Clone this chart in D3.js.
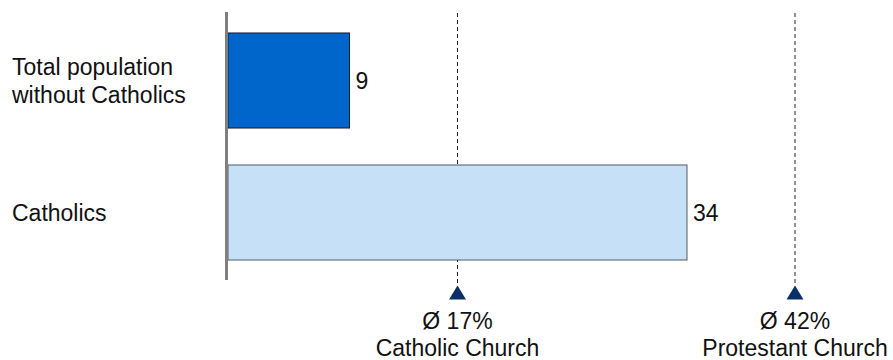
<!DOCTYPE html>
<meta charset="utf-8">
<style>
    body { margin: 0; background: #fff; }
    text {
        font-family: "Liberation Sans", Arial, sans-serif;
        font-size: 23px;
        fill: #111;
    }
</style>
<svg id="chart" width="893" height="360"></svg>
<script src="https://cdn.jsdelivr.net/npm/d3@7/dist/d3.min.js"></script>
<script>
    // data
    var categories = [["Total population", "without Catholics"], ["Catholics"]];
    var values = [9, 34];
    var barColors = ["#0066cc", "#c6e0f8"];
    var barStrokes = ["#1a1a2e", "#555a66"];

    var refValues = [17, 42];
    var refLabels = [["Ø 17%", "Catholic Church"], ["Ø 42%", "Protestant Church"]];

    var svg = d3.select("#chart");

    var x = d3.scaleLinear().domain([0, 50]).range([228, 228 + 50 * 13.5]);
    var y = d3.scaleBand()
        .domain(d3.range(categories.length))
        .range([14.5, 278.5])
        .paddingInner(0.28)
        .paddingOuter(0.14);

    // reference lines (dashed) with triangle markers
    var refs = svg.selectAll(".ref")
        .data(refValues)
        .enter().append("g")
        .attr("class", "ref");

    refs.append("line")
        .attr("x1", d => x(d)).attr("x2", d => x(d))
        .attr("y1", 13).attr("y2", 285)
        .attr("stroke", "#222")
        .attr("stroke-width", 1)
        .attr("stroke-dasharray", "4,3");

    refs.append("path")
        .attr("d", "M-8.5,7L8.5,7L0,-7Z")
        .attr("transform", d => "translate(" + x(d) + ",292.5)")
        .attr("fill", "#0b2e66");

    refs.append("text")
        .attr("text-anchor", "middle")
        .attr("x", d => x(d))
        .attr("y", 329)
        .text((d, i) => refLabels[i][0]);

    refs.append("text")
        .attr("text-anchor", "middle")
        .attr("x", d => x(d))
        .attr("y", 356)
        .text((d, i) => refLabels[i][1]);

    // bars
    svg.selectAll(".bar")
        .data(values)
        .enter().append("rect")
        .attr("class", "bar")
        .attr("x", x(0))
        .attr("y", (d, i) => y(i))
        .attr("width", d => x(d) - x(0))
        .attr("height", y.bandwidth())
        .attr("fill", (d, i) => barColors[i])
        .attr("stroke", (d, i) => barStrokes[i])
        .attr("stroke-width", 1);

    // value labels
    svg.selectAll(".val")
        .data(values)
        .enter().append("text")
        .attr("class", "val")
        .attr("x", d => x(d) + 6)
        .attr("y", (d, i) => y(i) + y.bandwidth() / 2)
        .attr("dy", "0.35em")
        .text(d => d);

    // category labels
    var cat = svg.selectAll(".cat")
        .data(categories)
        .enter().append("text")
        .attr("class", "cat")
        .attr("x", 12)
        .attr("y", (d, i) => y(i) + y.bandwidth() / 2);

    cat.selectAll("tspan")
        .data(d => d.map((t, j) => ({ t: t, j: j, n: d.length })))
        .enter().append("tspan")
        .attr("x", 12)
        .attr("dy", (d) => d.j == 0 ? (0.35 - (d.n - 1) * 0.58) + "em" : "1.19em")
        .text(d => d.t);

    // vertical axis line
    svg.append("line")
        .attr("x1", 226.5).attr("x2", 226.5)
        .attr("y1", 12).attr("y2", 280)
        .attr("stroke", "#808080")
        .attr("stroke-width", 3);
</script>
